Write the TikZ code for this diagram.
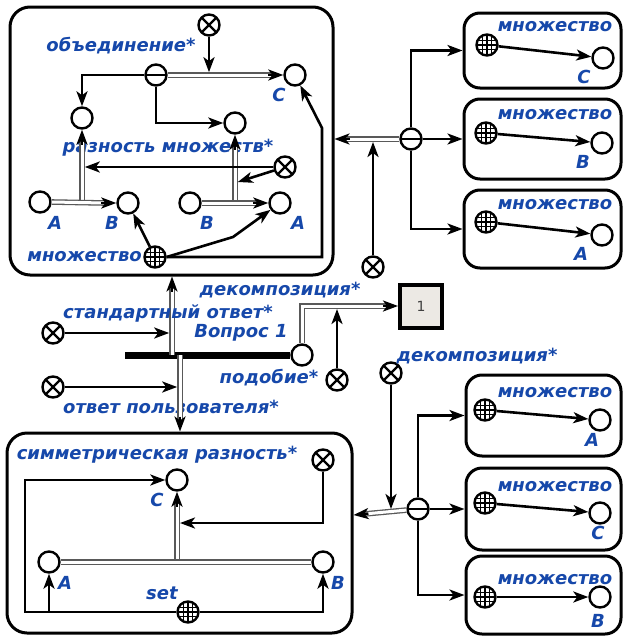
\documentclass[tikz,border=0pt]{standalone}
\usepackage{fontspec}
\setsansfont{DejaVu Sans}
\usetikzlibrary{arrows.meta,calc}
\definecolor{lblue}{RGB}{22,72,170}
\definecolor{boxfill}{RGB}{236,233,228}
\tikzset{
  lab/.style={font=\sffamily\bfseries\itshape\fontsize{18}{21}\selectfont, text=lblue, inner sep=0pt},
  ring/.style={circle, draw=black, line width=2.4pt, fill=white, minimum size=21pt, inner sep=0pt},
  xring/.style={ring, path picture={\draw[line width=2.2pt] (path picture bounding box.north west)--(path picture bounding box.south east) (path picture bounding box.north east)--(path picture bounding box.south west);}},
  mring/.style={ring, path picture={\draw[line width=2.2pt] (path picture bounding box.west)--(path picture bounding box.east);}},
  gring/.style={ring, path picture={\foreach \d in {-4.7,0,4.7}{\draw[line width=1.3pt] ([xshift=\d pt]path picture bounding box.north)--([xshift=\d pt]path picture bounding box.south); \draw[line width=1.3pt] ([yshift=\d pt]path picture bounding box.west)--([yshift=\d pt]path picture bounding box.east);}}},
  arr/.style={line width=2.6pt, -{Stealth[length=15pt,width=11pt,inset=4pt]}},
  dbl/.style={draw=black!65, double=white, double distance=3pt, line width=1.3pt},
  rbox/.style={draw, line width=3pt, rounded corners=16pt, inner sep=0pt},
}
\begin{document}
\begin{tikzpicture}[x=1pt,y=-1pt]
\useasboundingbox[fill=white] (0,0) rectangle (624,637);

% ---------- top-left box ----------
\node[rbox, rounded corners=20pt, minimum width=323pt, minimum height=268pt] (TL) at (171.5,141) {};
\node[xring] (xT) at (209,25) {};
\node[lab] at (121,46) {объединение*};
\node[mring] (mU) at (156,75) {};
\node[ring] (cC) at (295,75) {};
\node[lab] at (279,95) {C};
\node[ring] (cL) at (82,118) {};
\node[ring] (cM) at (235,123) {};
\node[lab] at (168,148) {разность множеств*};
\node[xring] (xR) at (285,167) {};
\node[ring] (cA1) at (40,202) {};
\node[lab] at (55,223) {A};
\node[ring] (cB1) at (128,203) {};
\node[lab] at (112,223) {B};
\node[ring] (cB2) at (190,203) {};
\node[lab] at (207,223) {B};
\node[ring] (cA2) at (280,203) {};
\node[lab] at (298,223) {A};
\node[gring] (gM) at (155,257) {};
\node[lab, anchor=east] at (142,257) {множество};

\draw[dbl] (mU.east) -- ($(cC.west)+(-12,0)$);
\draw[arr] ($(cC.west)+(-15,0)$) -- (cC.west);
\coordinate (jT) at (209,72.2);
\draw[arr] (xT) -- (jT);
\draw[arr] (mU.west) -| (cL.north);
\draw[arr] (mU.south) |- (cM.west);

\draw[dbl] (cL |- cA1) -- ($(cL.south)+(0,12)$);
\draw[arr] ($(cL.south)+(0,15)$) -- (cL.south);
\draw[dbl] (cA1.east) -- ($(cB1.west)+(-12,0)$);
\draw[arr] ($(cB1.west)+(-15,0)$) -- (cB1.west);

\draw[dbl] (cM |- cB2) -- ($(cM.south)+(0,12)$);
\draw[arr] ($(cM.south)+(0,15)$) -- (cM.south);
\draw[dbl] (cB2.east) -- ($(cA2.west)+(-12,0)$);
\draw[arr] ($(cA2.west)+(-15,0)$) -- (cA2.west);

\coordinate (jR1) at ($(cL |- xR)+(2.8,0)$);
\draw[arr] (xR.west) -- (jR1);
\coordinate (jR2) at ($(cM |- 0,182)+(2.8,0)$);
\draw[arr] (xR) -- (jR2);

\draw[arr] (gM) -- (cB1);
\draw[arr] (gM.east) -- (233,237) -- (cA2);
\draw[arr] (gM.east) -- (322,257) -- (322,128) -- (cC);

% ---------- middle ----------
\node[ring] (cQ) at (302,355) {};
\coordinate (barL) at (125,355);
\draw[line width=7pt] (barL) -- (cQ.west);
\node[lab] at (241,333) {Вопрос 1};

\coordinate (uS) at (172,355);
\coordinate (uE) at (uS |- TL.south);
\draw[dbl] (uS) -- ($(uE)+(0,12)$);
\draw[arr] ($(uE)+(0,15)$) -- (uE);

\node[xring] (xS) at (53,333) {};
\coordinate (jS) at (169.2,333);
\draw[arr] (xS) -- (jS);
\node[lab] at (168,313) {стандартный ответ*};
\node[lab] at (280,290) {декомпозиция*};

\node[draw, line width=4pt, fill=boxfill, minimum width=42pt, minimum height=43pt, font=\sffamily\fontsize{14}{16}\selectfont, text=black!75] (one) at (421,306) {1};
\draw[dbl] (cQ.north) |- ($(one.west)+(-12,0)$);
\draw[arr] ($(one.west)+(-15,0)$) -- (one.west);

\node[xring] (xP) at (337,380) {};
\coordinate (jP) at (337,309);
\draw[arr] (xP) -- (jP);
\node[lab] at (269,378) {подобие*};

% ---------- bottom-left box ----------
\node[rbox, rounded corners=20pt, minimum width=345pt, minimum height=200pt] (BL) at (179.5,533) {};

\node[xring] (xU) at (53,387) {};
\coordinate (jU) at (177.2,387);
\draw[arr] (xU) -- (jU);
\node[lab] at (171,407) {ответ пользователя*};
\coordinate (dS) at (180,355);
\coordinate (dE) at (dS |- BL.north);
\draw[dbl] (dS) -- ($(dE)+(0,-12)$);
\draw[arr] ($(dE)+(0,-15)$) -- (dE);

\node[lab] at (157,455) {симметрическая разность*};
\node[xring] (xSD) at (323,460) {};
\node[ring] (cC3) at (177,480) {};
\node[lab] at (157,500) {C};
\node[ring] (cA3) at (49,562) {};
\node[lab] at (65,583) {A};
\node[ring] (cB3) at (323,562) {};
\node[lab] at (338,583) {B};
\node[lab] at (162,593) {set};
\node[gring] (gS) at (188,612) {};

\draw[dbl] (cC3 |- cA3) -- ($(cC3.south)+(0,12)$);
\draw[arr] ($(cC3.south)+(0,15)$) -- (cC3.south);
\draw[dbl] (cA3.east) -- (cB3.west);
\coordinate (jSD) at (180,523);
\draw[arr] (xSD.south) |- (jSD);
\draw[arr] (gS.west) -- (25,612) |- (cC3.west);
\draw[arr] (cA3 |- gS) -- (cA3.south);
\draw[arr] (gS.east) -| (cB3.south);

% ---------- top-right ----------
\node[mring] (mD1) at (411,139) {};
\coordinate (tE) at (TL.east |- mD1);
\draw[dbl] (mD1.west) -- ($(tE)+(12,0)$);
\draw[arr] ($(tE)+(15,0)$) -- (tE);
\node[xring] (xD1) at (373,267) {};
\coordinate (jD1) at (373,142);
\draw[arr] (xD1) -- (jD1);

\node[rbox, minimum width=157pt, minimum height=75pt] (R1) at (542.5,50.5) {};
\node[rbox, minimum width=157pt, minimum height=80pt] (R2) at (542.5,139) {};
\node[rbox, minimum width=157pt, minimum height=78pt] (R3) at (542.5,229) {};
\draw[arr] (mD1.north) |- (R1.west);
\draw[arr] (mD1.east) -- (R2.west);
\draw[arr] (mD1.south) |- (R3.west);

\node[gring] (g1) at (487,45) {};
\node[ring] (c1) at (603,58) {};
\draw[arr] (g1) -- (c1);
\node[lab] at (555,27) {множество};
\node[lab] at (584,77) {C};

\node[gring] (g2) at (486,133) {};
\node[ring] (c2) at (602,143) {};
\draw[arr] (g2) -- (c2);
\node[lab] at (555,115) {множество};
\node[lab] at (583,162) {B};

\node[gring] (g3) at (486,222) {};
\node[ring] (c3) at (602,235) {};
\draw[arr] (g3) -- (c3);
\node[lab] at (555,205) {множество};
\node[lab] at (581,254) {A};

% ---------- bottom-right ----------
\node[xring] (xD2) at (391,373) {};
\node[lab] at (477,356) {декомпозиция*};
\node[mring] (mD2) at (418,509) {};
\coordinate (bE) at (BL.east |- 0,515);
\draw[dbl] (mD2) -- ($(bE)!12pt!(mD2)$);
\draw[arr] ($(bE)!15pt!(mD2)$) -- (bE);
\coordinate (jD2) at (391,509);
\draw[arr] (xD2) -- (jD2);

\node[rbox, minimum width=155pt, minimum height=81pt] (R4) at (543.5,415.5) {};
\node[rbox, minimum width=155pt, minimum height=82pt] (R5) at (543.5,509) {};
\node[rbox, minimum width=155pt, minimum height=78pt] (R6) at (543.5,595) {};
\draw[arr] (mD2.north) |- (R4.west);
\draw[arr] (mD2.east) -- (R5.west);
\draw[arr] (mD2.south) |- (R6.west);

\node[gring] (g4) at (485,410) {};
\node[ring] (c4) at (600,420) {};
\draw[arr] (g4) -- (c4);
\node[lab] at (555,393) {множество};
\node[lab] at (592,440) {A};

\node[gring] (g5) at (485,503) {};
\node[ring] (c5) at (600,513) {};
\draw[arr] (g5) -- (c5);
\node[lab] at (555,487) {множество};
\node[lab] at (598,533) {C};

\node[gring] (g6) at (485,597) {};
\node[ring] (c6) at (600,597) {};
\draw[arr] (g6) -- (c6);
\node[lab] at (555,580) {множество};
\node[lab] at (598,621) {B};
\end{tikzpicture}
\end{document}
